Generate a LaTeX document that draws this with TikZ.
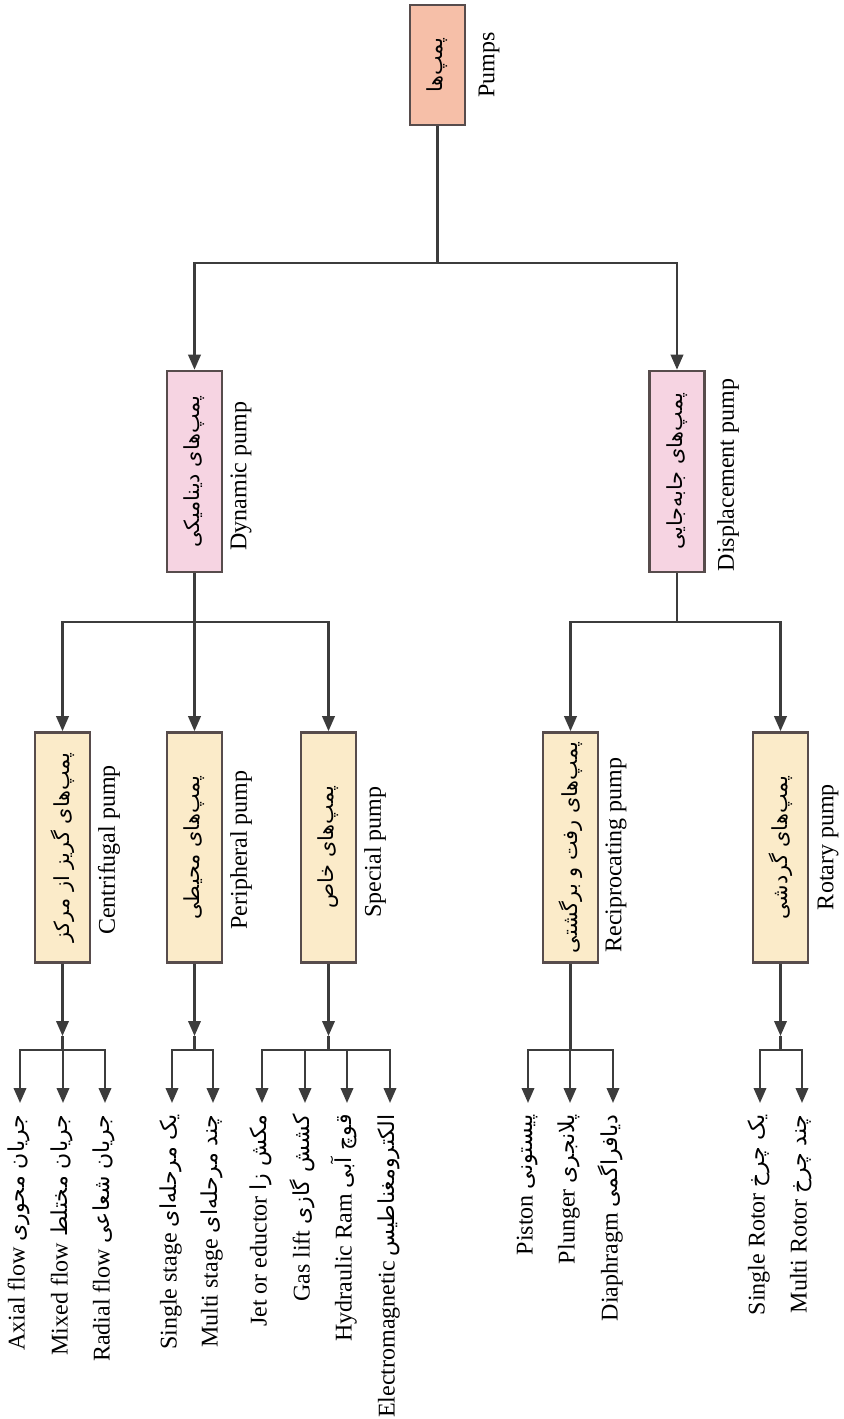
\documentclass[tikz,border=0pt]{standalone}
\usepackage{graphicx}
\usepackage{fontspec}
\setmainfont{Liberation Serif}
\newfontfamily\fafont[Script=Arabic]{DejaVu Sans}
\TeXXeTstate=1
\usetikzlibrary{arrows.meta}
\newcommand\FA[1]{{\fafont\fontsize{10.4}{12}\selectfont\beginR #1\endR}}
\newcommand\FL[1]{{\fafont\fontsize{11}{13}\selectfont\beginR #1\endR}}
\definecolor{rootfill}{HTML}{F6BFA8}
\definecolor{onefill}{HTML}{F6D4E2}
\definecolor{twofill}{HTML}{FBEBC9}
\definecolor{boxline}{HTML}{574C4C}
\definecolor{linecol}{HTML}{3C3C3C}
\begin{document}
\begin{tikzpicture}[x=0.5pt,y=-0.5pt,
  box/.style={draw=boxline, line width=1.3pt, minimum width=27.5pt, inner sep=0pt},
  rootbox/.style={box, fill=rootfill, minimum height=60pt},
  onebox/.style={box, fill=onefill, minimum height=100.5pt},
  twobox/.style={box, fill=twofill, minimum height=115pt},
  eng/.style={rotate=90, inner sep=0pt, font=\fontsize{12}{14}\selectfont},
  leaf/.style={rotate=90, anchor=mid east, inner sep=0pt, font=\fontsize{12}{14}\selectfont},
  conn/.style={draw=linecol, line width=1.2pt},
  arr/.style={conn, -{Triangle[length=7.5pt,width=6.2pt]}}
]
\useasboundingbox (0,0) rectangle (843,1419);

% root
\node[rootbox] (root) at (437.5,65) {\rotatebox{90}{\FA{پمپ^^^^200cها}}};
\node[eng] (rootL) at (489,65) {Pumps};

% level 1
\node[onebox] (dyn) at (194.5,471.5) {\rotatebox{90}{\FA{پمپ^^^^200cهای دینامیکی}}};
\node[eng] (dynL) at (241,476) {Dynamic pump};
\node[onebox] (disp) at (677,471.5) {\rotatebox{90}{\FA{پمپ^^^^200cهای جابه^^^^200cجایی}}};
\node[eng] (dispL) at (728,475) {Displacement pump};

% level 2
\node[twobox] (cent) at (62.5,847.5) {\rotatebox{90}{\FA{پمپ^^^^200cهای گریز از مرکز}}};
\node[eng] (centL) at (109,850) {Centrifugal pump};
\node[twobox] (peri) at (194.5,847.5) {\rotatebox{90}{\FA{پمپ^^^^200cهای محیطی}}};
\node[eng] (periL) at (241,850) {Peripheral pump};
\node[twobox] (spec) at (328.5,847.5) {\rotatebox{90}{\FA{پمپ^^^^200cهای خاص}}};
\node[eng] (specL) at (375,852) {Special pump};
\node[twobox] (reci) at (570.5,847.5) {\rotatebox{90}{\FA{پمپ^^^^200cهای رفت و برگشتی}}};
\node[eng] (reciL) at (616,855) {Reciprocating pump};
\node[twobox] (rota) at (780.5,847.5) {\rotatebox{90}{\FA{پمپ^^^^200cهای گردشی}}};
\node[eng] (rotaL) at (828,847) {Rotary pump};

% leaves
\node[leaf] (l1) at (20,1114) {Axial flow \FL{جریان محوری}};
\node[leaf] (l2) at (63,1114) {Mixed flow \FL{جریان مختلط}};
\node[leaf] (l3) at (105,1114) {Radial flow \FL{جریان شعاعی}};
\node[leaf] (l4) at (172,1114) {Single stage \FL{یک مرحله^^^^200cای}};
\node[leaf] (l5) at (213,1114) {Multi stage \FL{چند مرحله^^^^200cای}};
\node[leaf] (l6) at (262,1114) {Jet or eductor \FL{مکش زا}};
\node[leaf] (l7) at (305,1114) {Gas lift \FL{کشش گازی}};
\node[leaf] (l8) at (347,1114) {Hydraulic Ram \FL{قوچ آبی}};
\node[leaf] (l9) at (390,1114) {Electromagnetic\,\FL{الکترومغناطیس}};
\node[leaf] (l10) at (528,1114) {Piston \FL{پیستونی}};
\node[leaf] (l11) at (570,1114) {Plunger \FL{پلانجری}};
\node[leaf] (l12) at (613,1114) {Diaphragm \FL{دیافراگمی}};
\node[leaf] (l13) at (760,1114) {Single Rotor \FL{یک چرخ}};
\node[leaf] (l14) at (802,1114) {Multi Rotor \FL{چند چرخ}};

% junction coordinates
\coordinate (j0) at (437.5,263);
\coordinate (j1) at (194.5,622);
\coordinate (j2) at (677,622);
\coordinate (tc) at (62.5,1036);  \coordinate (jc) at (62.5,1050);
\coordinate (tp) at (194.5,1036); \coordinate (jp) at (194.5,1050);
\coordinate (ts) at (328.5,1036); \coordinate (js) at (328.5,1050);
\coordinate (jr) at (570.5,1050);
\coordinate (tt) at (780.5,1036); \coordinate (jt) at (780.5,1050);

% connectors
\draw[conn] (root.south) -- (j0);
\draw[arr] (j0) -| (dyn.north);
\draw[arr] (j0) -| (disp.north);

\draw[conn] (dyn.south) -- (j1);
\draw[arr] (j1) -| (cent.north);
\draw[arr] (j1) -- (peri.north);
\draw[arr] (j1) -| (spec.north);

\draw[conn] (disp.south) -- (j2);
\draw[arr] (j2) -| (reci.north);
\draw[arr] (j2) -| (rota.north);

\draw[arr] (cent.south) -- (tc);
\draw[conn] (tc) -- (jc);
\draw[arr] (peri.south) -- (tp);
\draw[conn] (tp) -- (jp);
\draw[arr] (spec.south) -- (ts);
\draw[conn] (ts) -- (js);
\draw[conn] (reci.south) -- (jr);
\draw[arr] (rota.south) -- (tt);
\draw[conn] (tt) -- (jt);

\foreach \j/\l in {jc/l1, jc/l2, jc/l3, jp/l4, jp/l5, js/l6, js/l7, js/l8, js/l9, jr/l10, jr/l11, jr/l12, jt/l13, jt/l14}
  \draw[arr, shorten >=5.5pt] (\j) -| (\l.mid east);
\end{tikzpicture}
\end{document}
